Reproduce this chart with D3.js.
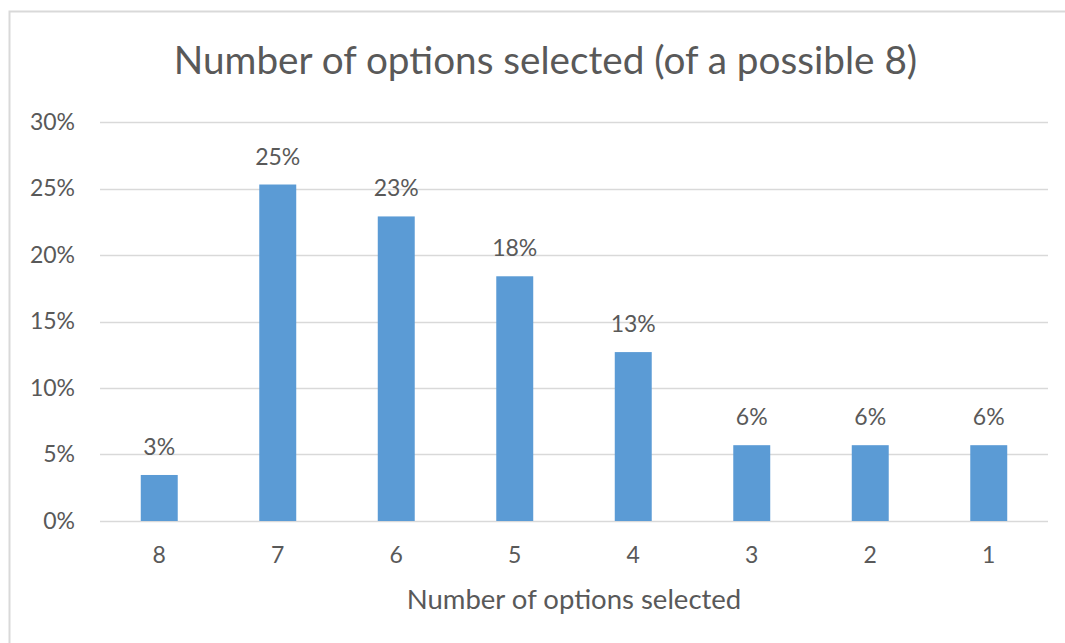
<!DOCTYPE html>
<html>
<head>
<meta charset="utf-8">
<script src="https://cdn.jsdelivr.net/npm/d3@7"></script>
<style>
  html, body { margin: 0; padding: 0; background: #fff; }
  svg { display: block; }
  text { font-family: Lato, "Open Sans", sans-serif; fill: #595959; }
</style>
</head>
<body>
<svg id="chart" width="1065" height="643"></svg>
<script>
// Share of respondents by number of options selected
const categories = ["8", "7", "6", "5", "4", "3", "2", "1"];
const shares = [0.0346, 0.253, 0.229, 0.184, 0.127, 0.057, 0.057, 0.057];
const yTicks = [0, 0.05, 0.10, 0.15, 0.20, 0.25, 0.30];
const titleText = "Number of options selected (of a possible 8)";
const xAxisTitle = "Number of options selected";

const svg = d3.select("#chart");
const W = 1065, H = 643;
const plot = { left: 100, right: 1048, top: 122, bottom: 521 };

// chart frame (top and left edges)
svg.append("path")
  .attr("d", `M9.5,${H} V11.5 H${W}`)
  .attr("fill", "none")
  .attr("stroke", "#d9d9d9")
  .attr("stroke-width", 2);

const x = d3.scaleBand()
  .domain(categories)
  .range([plot.left, plot.right])
  .paddingInner(0.688)
  .paddingOuter(0.344);

const y = d3.scaleLinear()
  .domain([0, 0.30])
  .range([plot.bottom, plot.top]);

// gridlines
svg.append("g")
  .selectAll("line")
  .data(yTicks)
  .join("line")
  .attr("x1", plot.left)
  .attr("x2", plot.right)
  .attr("y1", d => Math.round(y(d)) + 0.5)
  .attr("y2", d => Math.round(y(d)) + 0.5)
  .attr("stroke", "#d9d9d9")
  .attr("stroke-width", 1.3);

// y axis labels
const yAxis = d3.axisLeft(y)
  .tickValues(yTicks)
  .tickFormat(d3.format(".0%"))
  .tickSize(0)
  .tickPadding(25);
const yg = svg.append("g")
  .attr("transform", `translate(${plot.left},0)`)
  .call(yAxis);
yg.select(".domain").remove();
yg.selectAll("text")
  .style("font-size", "23px")
  .style("font-family", "Lato, 'Open Sans', sans-serif")
  .attr("fill", "#595959");

// x axis labels
const xAxis = d3.axisBottom(x).tickSize(0).tickPadding(26);
const xg = svg.append("g")
  .attr("transform", `translate(0,${plot.bottom})`)
  .call(xAxis);
xg.select(".domain").remove();
xg.selectAll("text")
  .style("font-size", "23px")
  .style("font-family", "Lato, 'Open Sans', sans-serif")
  .attr("fill", "#595959");

// bars
svg.append("g")
  .selectAll("rect")
  .data(categories.map((c, i) => ({ c, v: shares[i] })))
  .join("rect")
  .attr("x", d => x(d.c))
  .attr("width", x.bandwidth())
  .attr("y", d => y(d.v))
  .attr("height", d => y(0) - y(d.v))
  .attr("fill", "#5b9bd5");

// value labels
svg.append("g")
  .selectAll("text")
  .data(categories.map((c, i) => ({ c, v: shares[i] })))
  .join("text")
  .attr("x", d => x(d.c) + x.bandwidth() / 2)
  .attr("y", d => y(d.v) - 20)
  .attr("text-anchor", "middle")
  .style("font-size", "23px")
  .text(d => d3.format(".0%")(d.v));

// chart title
svg.append("text")
  .attr("x", 545.5)
  .attr("y", 74)
  .attr("text-anchor", "middle")
  .style("font-size", "38.7px")
  .text(titleText);

// x axis title
svg.append("text")
  .attr("x", 574)
  .attr("y", 609)
  .attr("text-anchor", "middle")
  .style("font-size", "27.5px")
  .text(xAxisTitle);
</script>
</body>
</html>
